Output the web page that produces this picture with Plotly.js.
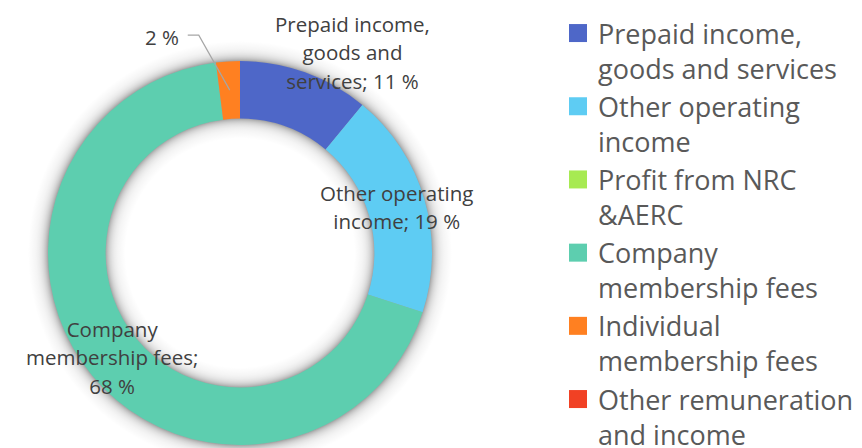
<!DOCTYPE html>
<html>
<head>
<meta charset="utf-8">
<script src="https://cdn.plot.ly/plotly-3.0.1.min.js"></script>
<style>
  html, body { margin: 0; padding: 0; background: #ffffff; overflow: hidden; }
  #chart { width: 862px; height: 448px; }
</style>
</head>
<body>
<div id="chart"></div>
<script>
// ---- data ----
const categories = [
  "Prepaid income, goods and services",
  "Other operating income",
  "Profit from NRC &AERC",
  "Company membership fees",
  "Individual membership fees",
  "Other remuneration and income"
];
const shares = [11, 19, 0, 68, 2, 0];   // percent
const legendLines = [
  ["Prepaid income,", "goods and services"],
  ["Other operating", "income"],
  ["Profit from NRC", "&AERC"],
  ["Company", "membership fees"],
  ["Individual", "membership fees"],
  ["Other remuneration", "and income"]
];
const sliceLabelLines = [
  ["Prepaid income,", "goods and", "services; 11 %"],
  ["Other operating", "income; 19 %"],
  [],
  ["Company", "membership fees;", "68 %"],
  ["2 %"],
  []
];
const colors = ["#4E67C8", "#5ECCF3", "#A7EA52", "#5DCEAF", "#FF8021", "#F14124"];

// ---- geometry / styling ----
const W = 862, H = 448;
const cx = 240, cy = 253, R = 192, HOLE = 0.70;
const ringMid = (1 + HOLE) / 2;
// label placement: radius (fraction of R) at the slice mid-angle, plus pixel nudges
const labelStyle = [
  { r: 1.0, dx: 47, dy: 20 },
  { r: ringMid, dx: 0, dy: 0 },
  null,
  { r: ringMid, dx: -2, dy: 0 },
  { r: ringMid, leader: true, dx: -68, dy: -53 },
  null
];
const labelFontSize = 20.5, labelLineBase = 21.8;

// slice mid-angles (degrees clockwise from 12 o'clock), derived from the data
const total = shares.reduce((a, b) => a + b, 0);
let acc = 0;
const midAngles = shares.map(v => { const m = (acc + v / 2) / total * 360; acc += v; return m; });

function toPx(thetaDeg, rFrac) {
  const t = thetaDeg * Math.PI / 180;
  return { x: cx + R * rFrac * Math.sin(t), y: cy - R * rFrac * Math.cos(t) };
}
const pxToPaperX = x => x / W;
const pxToPaperY = y => (H - y) / H;

const annotations = [];
const shapes = [];

sliceLabelLines.forEach((lines, i) => {
  const st = labelStyle[i];
  if (!st || !lines.length) return;
  const anchor = toPx(midAngles[i], st.r);
  const txt = '<span style="font-size:' + labelFontSize + 'px">' + lines.join("<br>") + '</span>';
  annotations.push({
    xref: "paper", yref: "paper",
    x: pxToPaperX(anchor.x), y: pxToPaperY(anchor.y),
    text: txt, align: "center", showarrow: false,
    xanchor: "center", yanchor: "middle",
    xshift: st.dx, yshift: -st.dy * (st.leader ? 1 : -1),
    font: { family: "Open Sans", size: labelLineBase, color: "#404040" }
  });
  if (st.leader) {
    // elbow leader line: from label's right side, short horizontal run, then down to the slice
    const lx = anchor.x + st.dx + 26, ly = anchor.y + st.dy - 2;
    const ex = lx + 11;
    const path = "M" + pxToPaperX(lx) + "," + pxToPaperY(ly) +
                 " L" + pxToPaperX(ex) + "," + pxToPaperY(ly) +
                 " L" + pxToPaperX(anchor.x) + "," + pxToPaperY(anchor.y);
    shapes.push({ type: "path", xref: "paper", yref: "paper", path: path,
      line: { color: "#A6A6A6", width: 1.2 }, layer: "above" });
  }
});

const trace = {
  type: "pie",
  labels: legendLines.map(l => l.join("<br>")),
  values: shares,
  textinfo: "none",
  hole: HOLE,
  sort: false,
  direction: "clockwise",
  rotation: 0,
  marker: { colors: colors, line: { width: 0 } },
  domain: {
    x: [(cx - R) / W, (cx + R) / W],
    y: [(H - cy - R) / H, (H - cy + R) / H]
  },
  automargin: false,
  hoverinfo: "label+percent"
};

const layout = {
  width: W, height: H,
  margin: { l: 0, r: 0, t: 0, b: 0 },
  paper_bgcolor: "#ffffff",
  plot_bgcolor: "#ffffff",
  showlegend: true,
  annotations: annotations,
  shapes: shapes,
  legend: {
    x: 558 / W, xanchor: "left",
    y: 1, yanchor: "top",
    valign: "top",
    font: { family: "Open Sans", size: 27, color: "#595959" },
    bgcolor: "rgba(0,0,0,0)",
    maxheight: 2000,
    traceorder: "normal"
  }
};

const LEGEND_DROP = 9;  // legend continues past the bottom edge, as in the source image
const SHADOW_SPREAD = 20, SHADOW_PEAK = 0.36, SHADOW_DECAY = 5.5;

function addRingShadow(gd) {
  const svgNS = "http://www.w3.org/2000/svg";
  let node = gd.querySelector("path.surface");
  if (!node) return;
  while (node.parentNode && node.parentNode.tagName && node.parentNode.tagName.toLowerCase() !== "svg") {
    node = node.parentNode;
  }
  const svg = node.parentNode;
  const rHole = R * HOLE, rOut = R + SHADOW_SPREAD;
  const g = document.createElementNS(svgNS, "g");
  const defs = document.createElementNS(svgNS, "defs");
  const grad = document.createElementNS(svgNS, "radialGradient");
  grad.setAttribute("id", "ringShadowGrad");
  grad.setAttribute("gradientUnits", "userSpaceOnUse");
  grad.setAttribute("cx", cx); grad.setAttribute("cy", cy); grad.setAttribute("r", rOut);
  const stops = [];
  stops.push([0, 0]);
  stops.push([rHole - SHADOW_SPREAD, 0]);
  [16, 12, 9, 6.5, 4.5, 3, 1.5, 0].forEach(d => stops.push([rHole - d, SHADOW_PEAK * Math.exp(-d / SHADOW_DECAY)]));
  stops.push([R, SHADOW_PEAK]);
  [1.5, 3, 4.5, 6.5, 9, 12, 16].forEach(d => stops.push([R + d, SHADOW_PEAK * Math.exp(-d / SHADOW_DECAY)]));
  stops.push([rOut, 0]);
  stops.forEach(([rr, a]) => {
    const s = document.createElementNS(svgNS, "stop");
    s.setAttribute("offset", (rr / rOut).toFixed(5));
    s.setAttribute("stop-color", "#000000");
    s.setAttribute("stop-opacity", a.toFixed(4));
    grad.appendChild(s);
  });
  defs.appendChild(grad);
  g.appendChild(defs);
  const c = document.createElementNS(svgNS, "circle");
  c.setAttribute("cx", cx); c.setAttribute("cy", cy); c.setAttribute("r", rOut);
  c.setAttribute("fill", "url(#ringShadowGrad)");
  g.appendChild(c);
  svg.insertBefore(g, node);
}

Plotly.newPlot("chart", [trace], layout, { displayModeBar: false, staticPlot: true }).then(function (gd) {
  // larger legend swatches
  gd.querySelectorAll(".legendpie").forEach(function (p) {
    p.setAttribute("d", "M9,9H-9V-9H9Z");
  });
  // let the legend run past the bottom edge
  const lg = gd.querySelector("g.legend");
  if (lg) {
    const m = /translate\(\s*([-\d.]+)[ ,]+([-\d.]+)\s*\)/.exec(lg.getAttribute("transform") || "");
    if (m) lg.setAttribute("transform", "translate(" + m[1] + "," + (parseFloat(m[2]) + LEGEND_DROP) + ")");
  }
  // soft shadow around the ring
  addRingShadow(gd);
});
</script>
</body>
</html>
